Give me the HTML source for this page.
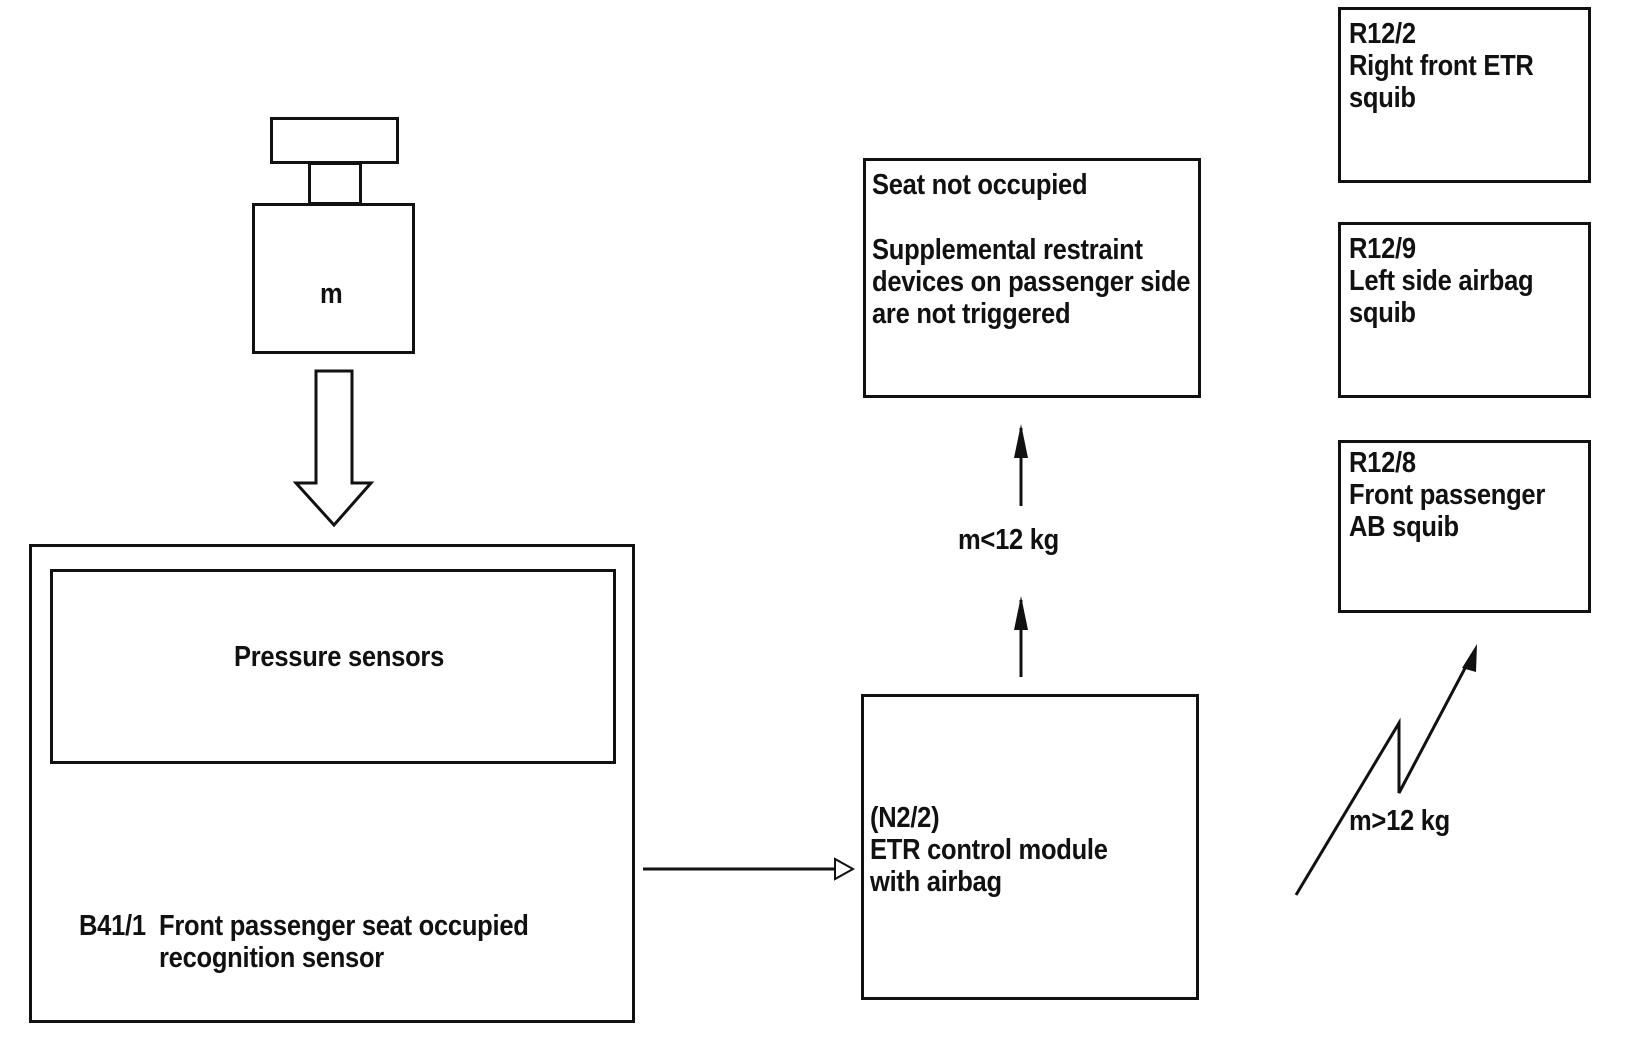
<!DOCTYPE html>
<html><head><meta charset="utf-8"><style>
html,body{margin:0;padding:0;background:#fff;}
body{width:1648px;height:1050px;position:relative;overflow:hidden;font-family:"Liberation Sans",sans-serif;font-weight:bold;color:#111;}
.b{position:absolute;border:3px solid #111;box-sizing:border-box;background:#fff;}
.t{position:absolute;font-size:29px;line-height:32px;white-space:nowrap;letter-spacing:-0.3px;transform:scaleX(0.88);transform-origin:0 0;}
</style></head><body>
<div class="b" style="left:270px;top:117px;width:129px;height:47px"></div>
<div class="b" style="left:308px;top:162px;width:54px;height:43px"></div>
<div class="b" style="left:252px;top:203px;width:163px;height:151px"></div>
<div class="t" style="left:320px;top:278px">m</div>
<svg style="position:absolute;left:0;top:0" width="1648" height="1050">
<polygon points="316,371 352,371 352,483 371,483 334,525 296,483 316,483" fill="#fff" stroke="#111" stroke-width="3"/>
<line x1="643" y1="869" x2="840" y2="869" stroke="#111" stroke-width="3"/>
<polygon points="853,869 835,859 835,879" fill="#fff" stroke="#111" stroke-width="2"/>
<line x1="1021" y1="677" x2="1021" y2="600" stroke="#111" stroke-width="3"/>
<polygon points="1021,596 1014,630 1028,630" fill="#111"/>
<line x1="1021" y1="506" x2="1021" y2="428" stroke="#111" stroke-width="3"/>
<polygon points="1021,424 1014,458 1028,458" fill="#111"/>
<polyline points="1296,895 1399,723 1399,793 1472,655" fill="none" stroke="#111" stroke-width="3"/>
<polygon points="1477,644 1462,668 1476,672" fill="#111"/>
</svg>
<div class="b" style="left:29px;top:544px;width:606px;height:479px"></div>
<div class="b" style="left:50px;top:569px;width:566px;height:195px"></div>
<div class="t" style="left:234px;top:641px">Pressure sensors</div>
<div class="t" style="left:79px;top:910px">B41/1</div>
<div class="t" style="left:159px;top:910px">Front passenger seat occupied<br>recognition sensor</div>
<div class="b" style="left:861px;top:694px;width:338px;height:306px"></div>
<div class="t" style="left:870px;top:802px">(N2/2)<br>ETR control module<br>with airbag</div>
<div class="b" style="left:863px;top:158px;width:338px;height:240px"></div>
<div class="t" style="left:872px;top:169px">Seat not occupied</div>
<div class="t" style="left:872px;top:234px">Supplemental restraint<br>devices on passenger side<br>are not triggered</div>
<div class="t" style="left:958px;top:524px">m&lt;12 kg</div>
<div class="b" style="left:1338px;top:7px;width:253px;height:176px"></div>
<div class="t" style="left:1349px;top:18px">R12/2<br>Right front ETR<br>squib</div>
<div class="b" style="left:1338px;top:222px;width:253px;height:176px"></div>
<div class="t" style="left:1349px;top:233px">R12/9<br>Left side airbag<br>squib</div>
<div class="b" style="left:1338px;top:440px;width:253px;height:173px"></div>
<div class="t" style="left:1349px;top:447px">R12/8<br>Front passenger<br>AB squib</div>
<div class="t" style="left:1349px;top:805px">m&gt;12 kg</div>
</body></html>
